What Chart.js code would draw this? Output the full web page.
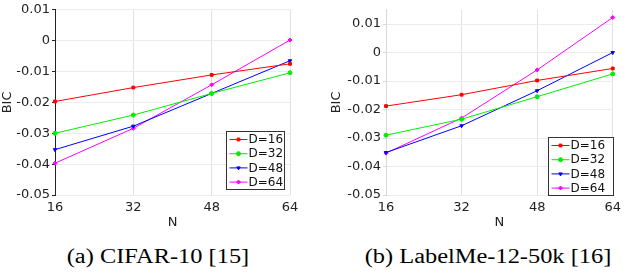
<!DOCTYPE html>
<html>
<head>
<meta charset="utf-8">
<script src="https://cdn.jsdelivr.net/npm/chart.js@4/dist/chart.umd.min.js"></script>
<style>
  body { margin: 0; background: #fff; }
  #wrap { position: relative; width: 626px; height: 276px; overflow: hidden; }
  canvas { position: absolute; top: 0; }
  #c1 { left: 0; }
  #c2 { left: 313px; }
  .caption {
    position: absolute; top: 245px; white-space: nowrap;
    font-family: 'Liberation Serif', 'Times New Roman', serif; font-size: 20px; color: #000;
    transform: translateX(-50%) scaleX(1.22);
  }
</style>
</head>
<body>
<div id="wrap">
  <canvas id="c1" width="313" height="235"></canvas>
  <canvas id="c2" width="313" height="235"></canvas>
  <div class="caption" style="left:158px">(a) CIFAR-10 [15]</div>
  <div class="caption" style="left:488px">(b) LabelMe-12-50k [16]</div>
</div>
<script>
// x values (N) and legend names
const nValues = ['16', '32', '48', '64'];
const seriesNames = ['D=16', 'D=32', 'D=48', 'D=64'];
const yTicks = [-0.05, -0.04, -0.03, -0.02, -0.01, 0, 0.01];

// CIFAR-10 BIC values
const cifarD16 = [-0.0197, -0.0152, -0.0111, -0.0075];
const cifarD32 = [-0.0300, -0.0241, -0.0171, -0.0104];
const cifarD48 = [-0.0353, -0.0277, -0.0171, -0.0065];
const cifarD64 = [-0.0397, -0.0284, -0.0143, 0.0002];

// LabelMe-12-50k BIC values
const labelmeD16 = [-0.0188, -0.0148, -0.0098, -0.0056];
const labelmeD32 = [-0.0290, -0.0234, -0.0155, -0.0075];
const labelmeD48 = [-0.0351, -0.0257, -0.0134, 0.0000];
const labelmeD64 = [-0.0353, -0.0230, -0.0061, 0.0123];

const colors = ['#ff0000', '#00ee00', '#0000ff', '#ff00ff'];
const pointStyles = ['rect', 'circle', 'triangle', 'rectRot'];
const rotations = [0, 0, 180, 0];

Chart.defaults.font.family = 'DejaVu Sans';
Chart.defaults.font.size = 13;
Chart.defaults.color = '#222';

// legend box drawn inside the plot area, bottom right
const boxLegend = {
    id: 'boxLegend',
    afterDatasetsDraw(chart, args, opts) {
        const ctx = chart.ctx;
        const a = chart.chartArea;
        const w = opts.width, h = 58;
        const x0 = Math.round(a.right - opts.inset - w) + 0.5;
        const y0 = Math.round(a.bottom - opts.inset - h) + 0.5;
        ctx.save();
        ctx.fillStyle = '#fff';
        ctx.fillRect(x0, y0, w, h);
        ctx.strokeStyle = '#333';
        ctx.lineWidth = 1;
        ctx.strokeRect(x0, y0, w, h);
        ctx.font = '12px "DejaVu Sans"';
        ctx.textBaseline = 'middle';
        chart.data.datasets.forEach((ds, i) => {
            const y = y0 + 8 + i * 14.2;
            ctx.strokeStyle = ds.borderColor;
            ctx.beginPath();
            ctx.moveTo(x0 + 3, y);
            ctx.lineTo(x0 + 21, y);
            ctx.stroke();
            ctx.fillStyle = ds.borderColor;
            Chart.helpers.drawPoint(ctx, {
                pointStyle: ds.pointStyle, rotation: ds.pointRotation, radius: 2, borderWidth: 1
            }, x0 + 12, y);
            ctx.fillStyle = '#111';
            ctx.fillText(ds.label, x0 + 22, y + 0.5);
        });
        ctx.restore();
    }
};

function makeDatasets(values) {
    return values.map((v, i) => ({
        label: seriesNames[i],
        data: v,
        borderColor: colors[i],
        backgroundColor: colors[i],
        borderWidth: 1,
        pointStyle: pointStyles[i],
        pointRotation: rotations[i],
        pointRadius: 2,
        pointBorderWidth: 1,
        tension: 0
    }));
}

function makeChart(id, values, cfg) {
    new Chart(document.getElementById(id), {
        type: 'line',
        data: { labels: nValues, datasets: makeDatasets(values) },
        options: {
            responsive: false,
            animation: false,
            devicePixelRatio: 1,
            layout: { padding: { left: cfg.padLeft, right: cfg.padRight, top: cfg.padTop, bottom: 0 } },
            plugins: {
                legend: { display: false },
                tooltip: { enabled: false },
                boxLegend: { width: cfg.legendWidth, inset: cfg.legendInset }
            },
            scales: {
                x: {
                    type: 'category',
                    offset: false,
                    afterFit: s => { s.height = 40; },
                    grid: { color: '#e2e2e2', drawTicks: false },
                    border: { display: false },
                    ticks: { padding: 5, color: '#222' },
                    title: { display: true, text: 'N', color: '#222', padding: { top: 0, bottom: 5 } }
                },
                y: {
                    min: -0.05,
                    max: cfg.yMax,
                    afterFit: s => { s.width = cfg.yWidth; },
                    afterBuildTicks: s => {
                        s.ticks = yTicks.filter(v => v <= cfg.yMax + 1e-9).map(v => ({ value: v }));
                    },
                    grid: { color: '#ececec', tickLength: 3, tickColor: cfg.axisColor },
                    border: { color: cfg.axisColor },
                    ticks: {
                        stepSize: 0.01,
                        padding: 2,
                        color: '#222',
                        callback: v => String(Number(v.toFixed(2)))
                    },
                    title: { display: true, text: 'BIC', color: '#222', padding: { top: 0, bottom: 0 } }
                }
            }
        },
        plugins: [boxLegend]
    });
}

makeChart('c1', [cifarD16, cifarD32, cifarD48, cifarD64], {
    padLeft: 0, padRight: 23, padTop: 8, yWidth: 55, yMax: 0.01,
    axisColor: '#222', legendWidth: 58, legendInset: 6
});

makeChart('c2', [labelmeD16, labelmeD32, labelmeD48, labelmeD64], {
    padLeft: 16, padRight: 7, padTop: 7, yWidth: 57, yMax: 0.015,
    axisColor: '#d8d8d8', legendWidth: 65, legendInset: 0
});
</script>
</body>
</html>
